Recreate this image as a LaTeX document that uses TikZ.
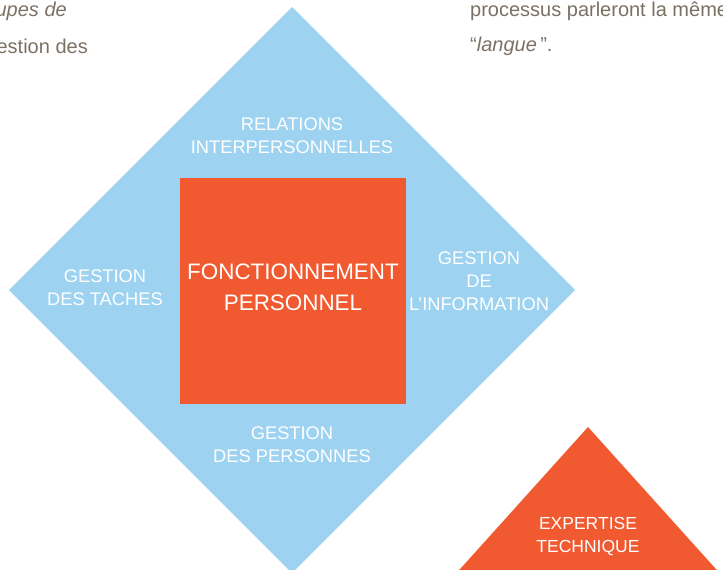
\documentclass[tikz,border=0pt]{standalone}
\usepackage{fontspec}
\setmainfont{Liberation Sans}
\usetikzlibrary{positioning}
\definecolor{ciel}{HTML}{9DD2F1}
\definecolor{corail}{HTML}{F15A30}
\definecolor{taupe}{HTML}{7B7064}

\begin{document}
\begin{tikzpicture}[x=1pt, y=-1pt]

	\tikzset{
	lbl/.style={text=white, align=center, inner sep=0pt, font=\fontsize{18.3}{23}\selectfont},
	biglbl/.style={text=white, align=center, inner sep=0pt, font=\fontsize{22.4}{31}\selectfont},
	prose/.style={text=taupe, inner sep=0pt, font=\fontsize{20}{25}\selectfont}
	}

	\useasboundingbox (0,0) rectangle (723,570);
	\clip (0,0) rectangle (723,570);

	% Shapes
	\fill[ciel] (292,7) -- (575,290) -- (292,573) -- (9,290) -- cycle;
	\node[fill=corail, minimum size=226pt, inner sep=0pt] (perso) at (293,291) {};
	\fill[corail] (588,427) -- (733,588) -- (443,588) -- cycle;

	% Labels
	\node[biglbl] (fonct) at (293,287.5) {FONCTIONNEMENT\\PERSONNEL};
	\node[lbl] (relat) at (292,135.5) {RELATIONS\\INTERPERSONNELLES};
	\node[lbl] (taches) at (105,288) {GESTION\\DES TACHES};
	\node[lbl] (info) at (479,281) {GESTION\\DE\\L’INFORMATION};
	\node[lbl] (personnes) at (292,445) {GESTION\\DES PERSONNES};
	\node[lbl, font=\fontsize{17.5}{23}\selectfont] (expert) at (588,536.5) {EXPERTISE\\TECHNIQUE};

	% Surrounding text
	\node[prose, anchor=east, font=\fontsize{20}{25}\selectfont\itshape] (txtA) at (67,11) {upes de};
	\node[prose, anchor=east] (txtB) at (88,46) {estion des};
	\node[prose, anchor=west] (txtC) at (470,11) {processus parleront la même};
	\node[prose, anchor=west] (txtD) at (470,46) {“\textit{langue}\,”.};

\end{tikzpicture}
\end{document}
